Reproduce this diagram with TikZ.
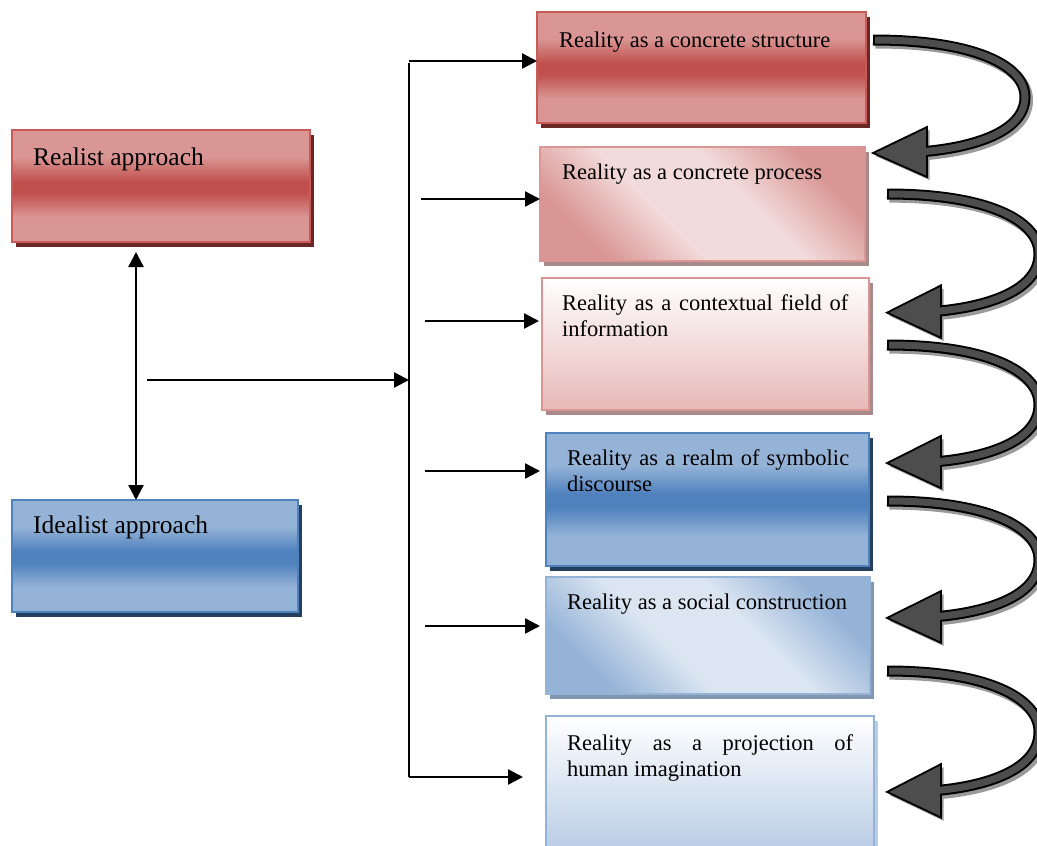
\documentclass[tikz,border=0pt]{standalone}
\usepackage{fontspec}
\setmainfont{Liberation Serif}
\usetikzlibrary{arrows.meta,shadows,calc}
\definecolor{redD}{HTML}{C0504D}
\definecolor{redL}{HTML}{DA9694}
\definecolor{redB}{HTML}{C85A57}
\definecolor{redSh}{HTML}{6B2725}
\definecolor{pinkL}{HTML}{F2DCDB}
\definecolor{pinkM}{HTML}{E6B9B8}
\definecolor{pinkB}{HTML}{D99694}
\definecolor{pinkSh}{HTML}{A88A8A}
\definecolor{blueD}{HTML}{4F81BD}
\definecolor{blueL}{HTML}{95B3D7}
\definecolor{blueSh}{HTML}{243F60}
\definecolor{blueP}{HTML}{DCE6F2}
\definecolor{blueM}{HTML}{B9CDE5}
\definecolor{blueSh2}{HTML}{8497B0}
\definecolor{arrFill}{HTML}{4D4D4D}
\definecolor{arrSh}{HTML}{9A9A9A}
\pgfdeclareverticalshading{redband}{100bp}{color(0bp)=(redL); color(36bp)=(redL); color(47bp)=(redD); color(52bp)=(redD); color(63bp)=(redL); color(100bp)=(redL)}
\pgfdeclareverticalshading{blueband}{100bp}{color(0bp)=(blueL); color(36bp)=(blueL); color(47bp)=(blueD); color(52bp)=(blueD); color(63bp)=(blueL); color(100bp)=(blueL)}
\pgfdeclareverticalshading{pinkdiag}{100bp}{color(0bp)=(pinkB); color(26bp)=(pinkB); color(42bp)=(pinkL); color(58bp)=(pinkL); color(74bp)=(pinkB); color(100bp)=(pinkB)}
\pgfdeclareverticalshading{bluediag}{100bp}{color(0bp)=(blueL); color(26bp)=(blueL); color(42bp)=(blueP); color(58bp)=(blueP); color(74bp)=(blueL); color(100bp)=(blueL)}
\tikzset{
  box/.style={rectangle, inner sep=0pt, outer sep=0pt, anchor=north west, line width=1.5pt},
  shad/.style={drop shadow={shadow xshift=4pt, shadow yshift=-5pt, fill=#1, opacity=1}},
  txt/.style={inner sep=0pt, anchor=north west, font=\fontsize{22.5}{26}\selectfont},
  jtxt/.style={txt, text width=#1, align=justify},
  bigtxt/.style={inner sep=0pt, anchor=north west, font=\fontsize{25.5}{30}\selectfont},
  conn/.style={line width=2.4pt, -{Triangle[length=15pt,width=15pt]}},
  dbl/.style={line width=2.4pt, {Triangle[length=15pt,width=15pt]}-{Triangle[length=15pt,width=15pt]}},
  curvarr/.pic={
    \begin{scope}[shift={(2.5,3)}]
      \draw[line width=11pt, arrSh] (0,0) .. controls (100,0) and (152,25) .. (152,57) .. controls (152,92) and (100,108) .. (46,112);
      \fill[arrSh] (0,113) -- (54,87) -- (54,137) -- cycle;
    \end{scope}
    \draw[line width=11pt, black] (0,0) .. controls (100,0) and (152,25) .. (152,57) .. controls (152,92) and (100,108) .. (46,112);
    \filldraw[fill=arrFill, draw=black, line width=1.8pt, line join=miter] (0,113) -- (54,87) -- (54,137) -- cycle;
    \draw[line width=7pt, arrFill, shorten <=2pt] (0,0) .. controls (100,0) and (152,25) .. (152,57) .. controls (152,92) and (100,108) .. (46,112);
  }
}
\begin{document}
\begin{tikzpicture}[x=1pt,y=-1pt]
\useasboundingbox[fill=white] (0,0) rectangle (1037,846);

% left boxes
\node[box, minimum width=298pt, minimum height=112pt, draw=redB, shading=redband, shad=redSh] (real) at (12,130) {};
\node[box, minimum width=286pt, minimum height=112pt, draw=blueD, shading=blueband, shad=blueSh] (ideal) at (12,500) {};
\node[bigtxt] (treal) at (33,148) {Realist approach};
\node[bigtxt] (tideal) at (33,516) {Idealist approach};

% right boxes
\node[box, minimum width=329pt, minimum height=111pt, draw=redB, shading=redband, shad=redSh] (r1) at (537,12) {};
\node[box, minimum width=325pt, minimum height=114pt, draw=pinkB, shading=pinkdiag, shading angle=-45, shad=pinkSh] (r2) at (540,147) {};
\node[box, minimum width=327pt, minimum height=132pt, draw=pinkB, top color=white, bottom color=pinkM, middle color=pinkL, shad=pinkSh] (r3) at (542,278) {};
\node[box, minimum width=323pt, minimum height=133pt, draw=blueD, shading=blueband, shad=blueSh] (r4) at (546,433) {};
\node[box, minimum width=324pt, minimum height=117pt, draw=blueL, shading=bluediag, shading angle=-45, shad=blueSh2] (r5) at (546,577) {};
\node[box, minimum width=328pt, minimum height=134pt, draw=blueL, top color=white, bottom color=blueM, middle color=blueP, shad=blueM] (r6) at (546,716) {};

\node[txt] (t1) at (559,32) {Reality as a concrete structure};
\node[txt] (t2) at (562,164) {Reality as a concrete process};
\node[jtxt=286pt] (t3) at (562,294) {Reality as a contextual field of\linebreak information};
\node[jtxt=282pt] (t4) at (567,449) {Reality as a realm of symbolic\linebreak discourse};
\node[txt] (t5) at (567,594) {Reality as a social construction};
\node[jtxt=286pt] (t6) at (567,734) {Reality as a projection of\linebreak human imagination};

% connectors
\coordinate (a) at ([xshift=-25pt,yshift=-10pt]real.south);
\draw[dbl] (a) -- (a |- ideal.north);
\coordinate (busT) at (409,61);
\coordinate (busB) at (409,777);
\draw[line width=1.8pt] ([yshift=-2pt]busT) -- (busB);
\coordinate (m) at (147,380);
\draw[conn] (m) -- (m -| busT);
\draw[conn] (busT) -- (busT -| r1.west);
\coordinate (s2) at (421,199);
\draw[conn] (s2) -- (s2 -| r2.west);
\coordinate (s3) at (425,321);
\draw[conn, shorten >=3pt] (s3) -- (s3 -| r3.west);
\coordinate (s4) at (425,471);
\draw[conn, shorten >=6pt] (s4) -- (s4 -| r4.west);
\coordinate (s5) at (425,626);
\draw[conn, shorten >=6pt] (s5) -- (s5 -| r5.west);
\draw[conn, shorten >=23pt] (busB) -- (busB -| r6.west);

% curved arrows
\pic at (873,40) {curvarr};
\pic[yscale=1.05] at (887,194) {curvarr};
\pic[yscale=1.045] at (887,345) {curvarr};
\pic[yscale=1.035] at (887,501) {curvarr};
\pic[yscale=1.07] at (887,671) {curvarr};
\end{tikzpicture}
\end{document}
